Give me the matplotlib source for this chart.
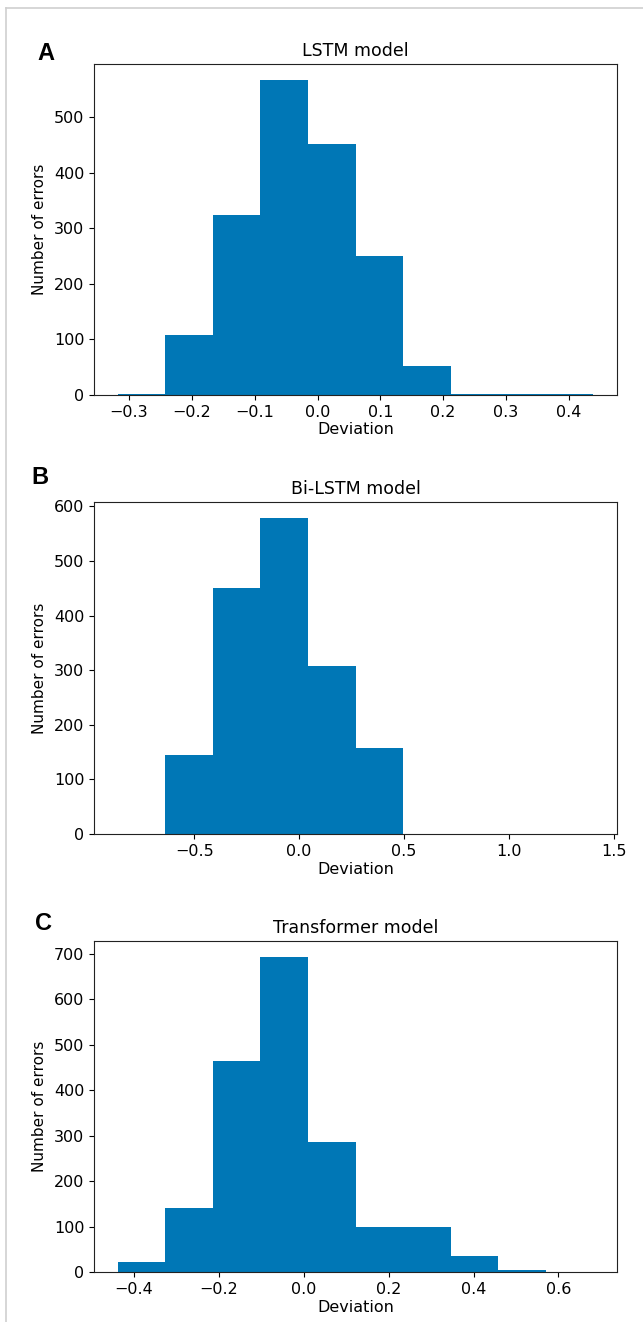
import numpy as np
import matplotlib
matplotlib.use("Agg")
import matplotlib.pyplot as plt
from matplotlib.lines import Line2D

# ---- data ----
lstm_edges_range = (-0.318, 0.439)
lstm_counts = [1, 108, 323, 567, 451, 250, 53, 1, 1, 1]

bilstm_edges_range = (-0.864, 1.401)
bilstm_counts = [0, 144, 450, 579, 307, 157, 0, 0, 0, 0]

trans_edges_range = (-0.438, 0.682)
trans_counts = [21, 140, 465, 694, 286, 100, 100, 36, 4, 1]

titles = ["LSTM model", "Bi-LSTM model", "Transformer model"]
letters = ["A", "B", "C"]
xlabel = "Deviation"
ylabel = "Number of errors"

bar_color = "#0077b6"

W, H = 643, 1322
fig = plt.figure(figsize=(W / 100, H / 100), dpi=100)
plt.rcParams['font.family'] = ['DejaVu Sans']

# axes positions in pixels: (left, top, right, bottom)
boxes = [(94, 64, 617, 395), (94, 502, 617, 834), (94, 941, 617, 1272)]
letter_pos = [(37, 53), (31, 478), (35, 923)]

datasets = [(lstm_edges_range, lstm_counts),
            (bilstm_edges_range, bilstm_counts),
            (trans_edges_range, trans_counts)]

xticks = [[-0.3, -0.2, -0.1, 0.0, 0.1, 0.2, 0.3, 0.4],
          [-0.5, 0.0, 0.5, 1.0, 1.5],
          [-0.4, -0.2, 0.0, 0.2, 0.4, 0.6]]

for i, ((rng, counts), box) in enumerate(zip(datasets, boxes)):
    l, t, r, b = box
    ax = fig.add_axes([l / W, 1 - b / H, (r - l) / W, (b - t) / H])
    edges = np.linspace(rng[0], rng[1], len(counts) + 1)
    ax.hist(edges[:-1], bins=edges, weights=counts, color=bar_color)
    ax.set_title(titles[i], fontsize=12.5, pad=6)
    ax.set_xlabel(xlabel, fontsize=11.5, labelpad=2)
    ax.set_ylabel(ylabel, fontsize=11)
    ax.yaxis.set_label_coords(-0.09, 0.5)
    ax.set_xticks(xticks[i])
    ax.tick_params(labelsize=11.5)
    for s in ax.spines.values():
        s.set_color("#222222")
    lx, ly = letter_pos[i]
    fig.text(lx / W, 1 - ly / H, letters[i], fontsize=17, fontweight='bold',
             family='Liberation Sans', ha='left', va='center')

# light page border (top and left)
fig.add_artist(Line2D([6 / W, 1], [1 - 8 / H, 1 - 8 / H], color="#cfcfcf", lw=1.2))
fig.add_artist(Line2D([6 / W, 6 / W], [0, 1 - 8 / H], color="#cfcfcf", lw=1.2))

fig.savefig("out.png", dpi=100)
